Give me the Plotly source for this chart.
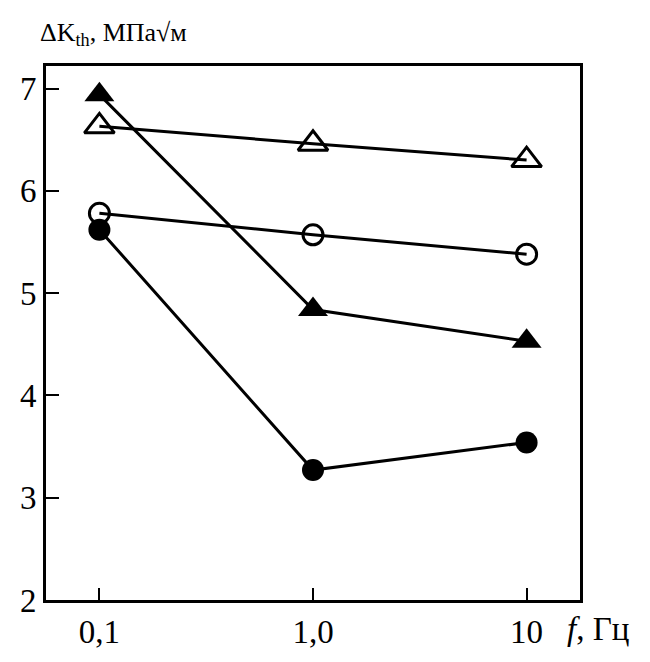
import plotly.graph_objects as go

# Threshold stress intensity range vs loading frequency
freq = [0.1, 1.0, 10.0]
open_tri = [6.63, 6.46, 6.30]
open_circ = [5.78, 5.57, 5.38]
filled_tri = [6.94, 4.84, 4.53]
filled_circ = [5.62, 3.27, 3.54]

x_tickvals = [0.1, 1.0, 10.0]
x_ticktext = ["0,1", "1,0", "10"]
y_tickvals = [2, 3, 4, 5, 6, 7]

fig = go.Figure()

series = [
    (open_tri, "triangle-up-open", 26, 3),
    (open_circ, "circle-open", 20, 3),
    (filled_tri, "triangle-up", 26, 0),
    (filled_circ, "circle", 22, 0),
]
for vals, sym, size, lw in series:
    fig.add_trace(go.Scatter(
        x=freq, y=vals, mode="lines+markers",
        line=dict(color="black", width=3),
        marker=dict(symbol=sym, size=size, color="black",
                    line=dict(color="black", width=lw)),
        showlegend=False,
    ))

serif = "Liberation Serif"
tick_font = dict(family=serif, size=33, color="black")
fig.update_xaxes(
    type="log", range=[-1.25, 1.25],
    tickvals=x_tickvals, ticktext=x_ticktext,
    ticks="inside", ticklen=12, tickwidth=2, tickcolor="black",
    showline=True, linewidth=3, linecolor="black", mirror=True,
    showgrid=False, zeroline=False, tickfont=tick_font,
)
fig.update_yaxes(
    range=[2, 7.22], tickvals=y_tickvals,
    ticks="inside", ticklen=13, tickwidth=2, tickcolor="black",
    showline=True, linewidth=3, linecolor="black", mirror=True,
    showgrid=False, zeroline=False, tickfont=tick_font,
)

plot_w = 650 - 46 - 70
plot_h = 662 - 66 - 55

# frequency unit placed after the last tick label
fig.add_annotation(
    x=1, y=0, xref="x", yref="paper", yshift=-29, xshift=38,
    text="<i>f</i>, Гц", showarrow=False,
    xanchor="left", yanchor="middle", font=tick_font,
)
# y-axis quantity written above the plot area
fig.add_annotation(
    x=(38 - 46) / plot_w, y=1 + (66 - 34) / plot_h,
    xref="paper", yref="paper",
    text="ΔK<sub>th</sub>, МПа√м", showarrow=False,
    xanchor="left", yanchor="middle",
    font=dict(family=serif, size=26, color="black"),
)

fig.update_layout(
    width=650, height=662,
    margin=dict(l=46, r=70, t=66, b=55),
    paper_bgcolor="white", plot_bgcolor="white",
)

fig.write_html("out.html")
